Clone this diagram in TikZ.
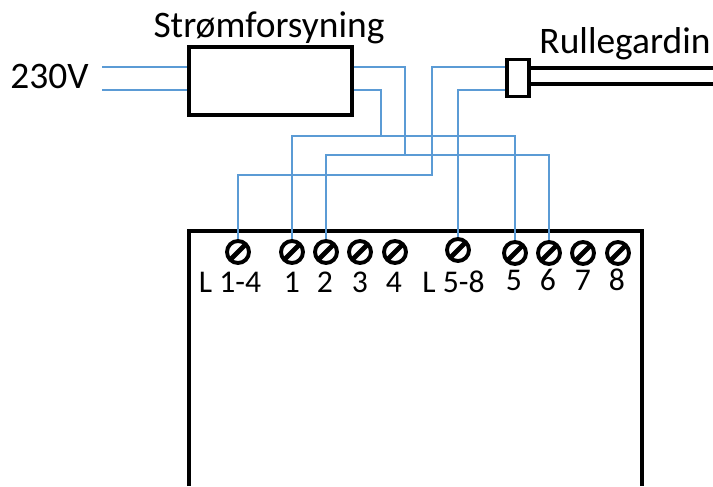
\documentclass[tikz,border=0pt]{standalone}
\usepackage{fontspec}
\setmainfont{Carlito}
\definecolor{wireblue}{RGB}{91,155,213}
\tikzset{
	box/.style={draw,line width=2.2pt,fill=white,inner sep=0pt},
	wire/.style={wireblue,line width=1.3pt},
	cable/.style={line width=2pt},
	screw/.style={circle,draw,line width=2.2pt,inner sep=0pt,minimum size=0.44cm,
		path picture={\draw[line width=2.8pt] (path picture bounding box.south west) -- (path picture bounding box.north east);}},
	toplabel/.style={font=\fontsize{21.3}{23}\selectfont,anchor=base,inner sep=0pt},
	pinlabel/.style={font=\fontsize{18}{20}\selectfont,anchor=base,inner sep=0pt}
}

\begin{document}
\begin{tikzpicture}
	\useasboundingbox (0,0) rectangle (14.26,9.72);

	% Controller
	\coordinate (ctrlsw) at (3.78,0);
	\coordinate (ctrlse) at (12.84,0);
	\coordinate (ctrlnw) at (3.78,5.1);
	\coordinate (ctrlne) at (12.84,5.1);
	\draw[line width=2.2pt] (ctrlsw) -- (ctrlnw) -- (ctrlne) -- (ctrlse);

	% Terminals
	\foreach \name/\x/\y/\lx/\ly/\txt in {
		la/4.76/4.68/4.60/3.88/L 1-4, a/5.84/4.68/5.84/3.88/1, b/6.52/4.68/6.50/3.88/2,
		c/7.20/4.68/7.20/3.88/3, d/7.90/4.68/7.88/3.88/4, lb/9.16/4.72/9.07/3.88/L 5-8,
		e/10.30/4.66/10.28/3.92/5, f/10.98/4.66/10.96/3.92/6, g/11.66/4.66/11.66/3.92/7,
		h/12.36/4.66/12.34/3.92/8} {
		\node[screw] (t\name) at (\x,\y) {};
		\node[pinlabel] (p\name) at (\lx,\ly) {\txt};
	}

	% Power supply and plug
	\node[box,minimum width=3.26cm,minimum height=1.36cm] (psu) at (5.41,8.10) {};
	\node[box,minimum width=0.44cm,minimum height=0.74cm] (plug) at (10.36,8.16) {};

	% Labels
	\node[toplabel] (psulabel) at (5.38,8.96) {Strømforsyning};
	\node[toplabel] (mains) at (0.99,7.94) {230V};
	\node[toplabel] (blind) at (12.50,8.64) {Rullegardin};

	% Blind cable
	\coordinate (blindtop) at (14.26,8.36);
	\coordinate (blindbot) at (14.26,8.04);
	\draw[cable] (plug.east |- blindtop) -- (blindtop);
	\draw[cable] (plug.east |- blindbot) -- (blindbot);

	% Mains
	\coordinate (ina) at (2.04,8.38);
	\coordinate (inb) at (2.04,7.92);
	\draw[wire] (ina) -- (ina -| psu.west);
	\draw[wire] (inb) -- (inb -| psu.west);

	% Buses
	\coordinate (busa) at (7.62,7.00);
	\coordinate (busb) at (8.10,6.62);
	\draw[wire] (ta.north) |- (busa) -| (te.north);
	\draw[wire] (tb.north) |- (busb) -| (tf.north);
	\draw[wire] (psu.east |- ina) -| (busb);
	\draw[wire] (psu.east |- inb) -| (busa);

	% Plug wires
	\coordinate (feedb) at (8.64,6.22);
	\draw[wire] (plug.west |- ina) -| (feedb) -| (tla.north);
	\draw[wire] (plug.west |- inb) -| (tlb.north);
\end{tikzpicture}
\end{document}
